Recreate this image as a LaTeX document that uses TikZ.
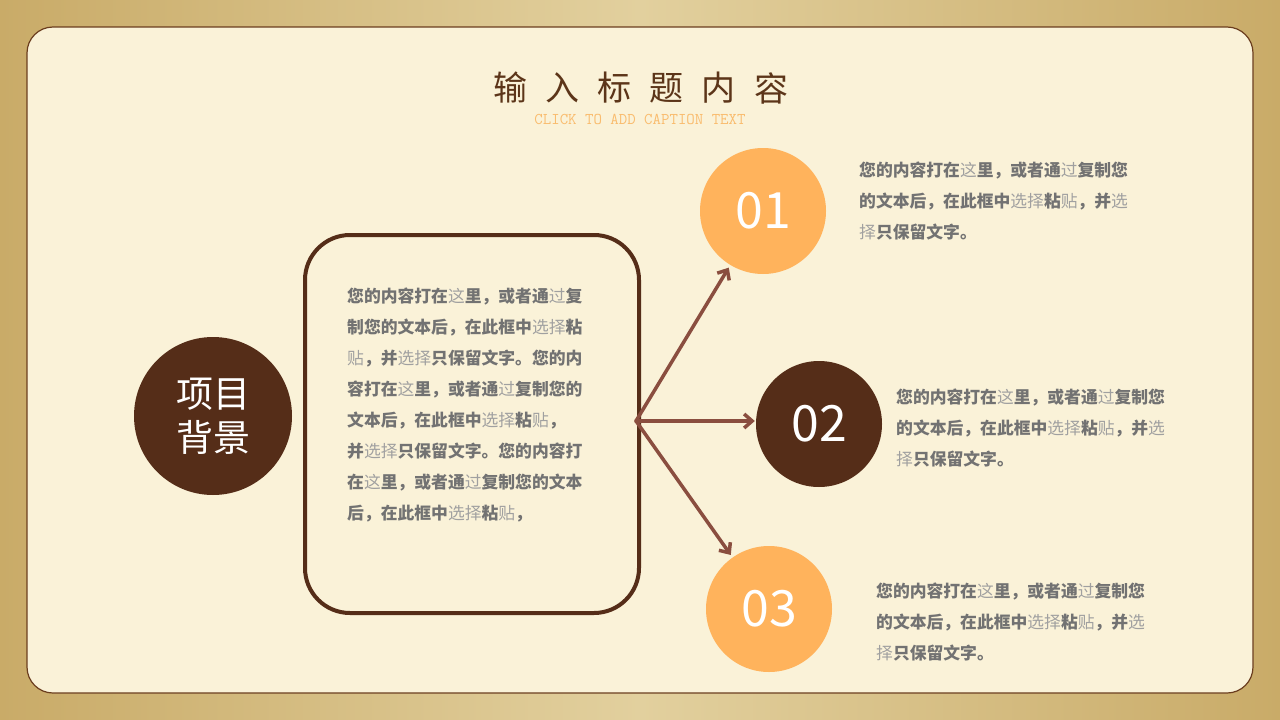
\documentclass[tikz,border=0pt]{standalone}
\usepackage{fontspec}
\setmainfont{Liberation Sans}
\newfontfamily\cjk{Noto Sans CJK SC}
\usetikzlibrary{arrows.meta}
\definecolor{goldbg}{HTML}{C9AB68}
\definecolor{goldlight}{HTML}{E2D09E}
\definecolor{panel}{HTML}{FAF2D8}
\definecolor{panelline}{HTML}{6B3D1E}
\definecolor{darkbrown}{HTML}{552D18}
\definecolor{orange}{HTML}{FFB35C}
\definecolor{arrowbrown}{HTML}{8A4E3F}
\definecolor{txtgrey}{HTML}{727272}
\definecolor{litegrey}{HTML}{A0A0A0}
\definecolor{titlebrown}{HTML}{5C3519}
\definecolor{capcolor}{HTML}{F9BC6E}
\newcommand{\lite}[1]{{\mdseries\color{litegrey}#1}}

\begin{document}
\begin{tikzpicture}[x=1pt,y=-1pt,
  body/.style={font=\cjk\bfseries\fontsize{16.8}{31}\selectfont, text=txtgrey, align=left, anchor=north west, inner sep=0pt},
  num/.style={circle, minimum size=126pt, inner sep=0pt, text=white, font=\cjk\fontsize{50}{50}\selectfont},
  link/.style={draw=arrowbrown, line width=3.5pt, line cap=round, -{Straight Barb[length=8pt,width=14pt]}, shorten >=3pt},
  titlechar/.style={font=\cjk\fontsize{34}{34}\selectfont, text=titlebrown, inner sep=0pt}
]
		%%%%% START %%%%%
		\useasboundingbox (0,0) rectangle (1280,720);
		\shade[left color=goldbg, right color=goldbg, middle color=goldlight] (0,0) rectangle (1280,720);
		\draw[draw=panelline, line width=1.2pt, fill=panel, rounded corners=26pt] (27,27) rectangle (1253,693);
		
		% title
		\foreach \ch [count=\i from 0] in {输,入,标,题,内,容}
			\node[titlechar] (title\i) at (510+52.2*\i, 88) {\ch};
		\node[font=\ttfamily\fontsize{16.4}{16.4}\selectfont, text=capcolor, inner sep=0pt] (caption) at (640, 119) {CLICK TO ADD CAPTION TEXT};
		
		% left topic
		\node[circle, fill=darkbrown, minimum size=158pt, inner sep=0pt, text=white, align=center, font=\cjk\fontsize{37}{44}\selectfont] (topic) at (213, 416) {项目\\背景};
		
		% box
		\draw[draw=darkbrown, line width=4pt, rounded corners=45pt] (305,235) rectangle (639,613);
		\node[body] (boxtext) at (347, 288) {您的内容打在\lite{这}里，或者通\lite{过}复\\
			制您的文本后，在此框中\lite{选择}粘\\
			\lite{贴}，并\lite{选择}只保留文字。您的内\\
			容打在\lite{这}里，或者通\lite{过}复制您的\\
			文本后，在此框中\lite{选择}粘\lite{贴}，\\
			并\lite{选择}只保留文字。您的内容打\\
			在\lite{这}里，或者通\lite{过}复制您的文本\\
			后，在此框中\lite{选择}粘\lite{贴}，};
		
		% numbers
		\node[num, fill=orange] (one) at (763, 211) {01};
		\node[num, fill=darkbrown] (two) at (819, 424) {02};
		\node[num, fill=orange] (three) at (769, 609) {03};
		
		\coordinate (hub) at (636, 421);
		\draw[link] (hub) -- (one);
		\draw[link, shorten >=1pt] (hub) -- (hub -| two.west);
		\draw[link] (hub) -- (three);
		
		% right texts
		\node[body] (textone) at (859, 162) {您的内容打在\lite{这}里，或者通\lite{过}复制您\\
			的文本后，在此框中\lite{选择}粘\lite{贴}，并\lite{选}\\
			\lite{择}只保留文字。};
		\node[body] (texttwo) at (896, 389) {您的内容打在\lite{这}里，或者通\lite{过}复制您\\
			的文本后，在此框中\lite{选择}粘\lite{贴}，并\lite{选}\\
			\lite{择}只保留文字。};
		\node[body] (textthree) at (876, 583) {您的内容打在\lite{这}里，或者通\lite{过}复制您\\
			的文本后，在此框中\lite{选择}粘\lite{贴}，并\lite{选}\\
			\lite{择}只保留文字。};
		%%%%% END %%%%%
\end{tikzpicture}
\end{document}
